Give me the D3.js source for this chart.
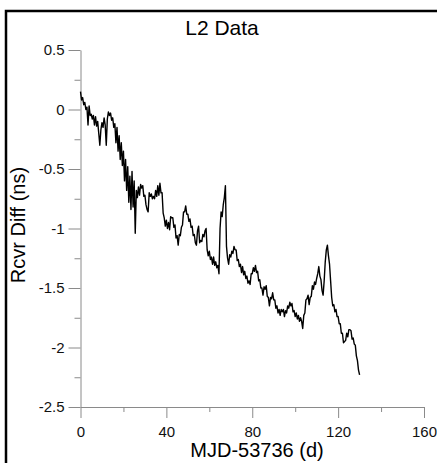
<!DOCTYPE html>
<html>
<head>
<meta charset="utf-8">
<script src="https://cdn.jsdelivr.net/npm/d3@7"></script>
<style>
  body { margin: 0; background: #fff; }
  svg { display: block; font-family: Arial, "Liberation Sans", sans-serif; }
</style>
</head>
<body>
<svg id="chart" width="437" height="463"></svg>
<script>
// data (day offset from MJD 53736, receiver difference in ns)
const days = [
  0, 0.5, 1, 1.5, 2, 2.5, 3, 3.5, 4, 4.5, 5, 5.5, 6, 6.5, 7, 7.5, 8, 8.5, 9, 9.5,
  10, 10.5, 11, 11.5, 12, 12.5, 13, 13.5, 14, 14.5, 15, 15.5, 16, 16.5, 17, 17.5, 18, 18.5, 19, 19.5,
  20, 20.5, 21, 21.5, 22, 22.5, 23, 23.5, 24, 24.5, 25, 25.5, 26, 26.5, 27, 27.5, 28, 28.5, 29, 29.5,
  30, 30.5, 31, 31.5, 32, 32.5, 33, 33.5, 34, 34.5, 35, 35.5, 36, 36.5, 37, 37.5, 38, 38.5, 39, 39.5,
  40, 40.5, 41, 41.5, 42, 42.5, 43, 43.5, 44, 44.5, 45, 45.5, 46, 46.5, 47, 47.5, 48, 48.5, 49, 49.5,
  50, 50.5, 51, 51.5, 52, 52.5, 53, 53.5, 54, 54.5, 55, 55.5, 56, 56.5, 57, 57.5, 58, 58.5, 59, 59.5,
  60, 60.5, 61, 61.5, 62, 62.5, 63, 63.5, 64, 64.5, 65, 65.5, 66, 66.5, 67, 67.5, 68, 68.5, 69, 69.5,
  70, 70.5, 71, 71.5, 72, 72.5, 73, 73.5, 74, 74.5, 75, 75.5, 76, 76.5, 77, 77.5, 78, 78.5, 79, 79.5,
  80, 80.5, 81, 81.5, 82, 82.5, 83, 83.5, 84, 84.5, 85, 85.5, 86, 86.5, 87, 87.5, 88, 88.5, 89, 89.5,
  90, 90.5, 91, 91.5, 92, 92.5, 93, 93.5, 94, 94.5, 95, 95.5, 96, 96.5, 97, 97.5, 98, 98.5, 99, 99.5,
  100, 100.5, 101, 101.5, 102, 102.5, 103, 103.5, 104, 104.5, 105, 105.5, 106, 106.5, 107, 107.5, 108, 108.5, 109, 109.5,
  110, 110.5, 111, 111.5, 112, 112.5, 113, 113.5, 114, 114.5, 115, 115.5, 116, 116.5, 117, 117.5, 118, 118.5, 119, 119.5,
  120, 120.5, 121, 121.5, 122, 122.5, 123, 123.5, 124, 124.5, 125, 125.5, 126, 126.5, 127, 127.5, 128, 128.5, 129, 129.5,
  130
]
const rcvrDiff = [
  0.15, 0.08, 0.10, 0.04, 0.06, 0.00, 0.02, -0.13, 0.03, -0.05, -0.04, -0.08, -0.05, -0.13, -0.06, -0.14, -0.10, -0.20, -0.30, -0.17,
  -0.11, -0.15, -0.07, -0.13, -0.30, -0.08, -0.02, -0.05, -0.03, -0.09, -0.07, -0.15, -0.12, -0.28, -0.15, -0.35, -0.22, -0.42, -0.28, -0.47,
  -0.35, -0.60, -0.42, -0.68, -0.48, -0.78, -0.56, -0.84, -0.52, -0.82, -0.60, -1.04, -0.68, -0.74, -0.65, -0.72, -0.63, -0.66, -0.64, -0.73,
  -0.72, -0.80, -0.84, -0.86, -0.70, -0.73, -0.71, -0.75, -0.73, -0.75, -0.68, -0.73, -0.64, -0.72, -0.62, -0.70, -0.70, -0.87, -0.91, -0.98,
  -0.93, -1.00, -0.95, -1.01, -0.90, -0.91, -0.91, -0.99, -0.97, -1.08, -1.06, -1.14, -1.05, -1.06, -0.99, -0.97, -0.86, -0.86, -0.81, -0.88,
  -0.88, -0.94, -0.92, -0.99, -0.98, -1.06, -1.05, -1.12, -1.14, -1.02, -0.98, -1.12, -1.10, -1.11, -1.05, -1.07, -1.02, -1.00, -1.18, -1.23,
  -1.19, -1.26, -1.24, -1.30, -1.24, -1.31, -1.28, -1.33, -1.31, -1.38, -1.00, -0.86, -0.90, -0.80, -0.74, -0.64, -1.15, -1.25, -1.30, -1.22,
  -1.24, -1.19, -1.21, -1.15, -1.18, -1.18, -1.27, -1.26, -1.32, -1.30, -1.37, -1.32, -1.39, -1.36, -1.42, -1.40, -1.46, -1.44, -1.47, -1.38,
  -1.38, -1.33, -1.36, -1.31, -1.37, -1.36, -1.44, -1.43, -1.50, -1.50, -1.56, -1.49, -1.51, -1.48, -1.57, -1.58, -1.65, -1.58, -1.59, -1.54,
  -1.60, -1.60, -1.67, -1.65, -1.71, -1.68, -1.73, -1.68, -1.70, -1.68, -1.74, -1.69, -1.71, -1.65, -1.67, -1.62, -1.65, -1.63, -1.70, -1.69,
  -1.74, -1.71, -1.76, -1.73, -1.78, -1.75, -1.78, -1.84, -1.73, -1.71, -1.60, -1.59, -1.56, -1.64, -1.58, -1.57, -1.48, -1.51, -1.45, -1.47,
  -1.42, -1.38, -1.32, -1.40, -1.43, -1.52, -1.56, -1.44, -1.28, -1.18, -1.14, -1.23, -1.30, -1.44, -1.58, -1.65, -1.64, -1.70, -1.68, -1.74,
  -1.74, -1.80, -1.80, -1.88, -1.88, -1.96, -1.95, -1.94, -1.88, -1.91, -1.85, -1.85, -1.86, -1.93, -1.92, -1.97, -1.98, -2.07, -2.11, -2.19,
  -2.23
]

const xMajor = [0, 40, 80, 120, 160]
const xMinor = [20, 60, 100, 140]
const yMajor = [0.5, 0, -0.5, -1, -1.5, -2, -2.5]
const yMinor = [0.25, -0.25, -0.75, -1.25, -1.75, -2.25]

const width = 437, height = 463
const margin = { left: 80.5, right: 13, top: 50, bottom: 56 }

const svg = d3.select("#chart")

// outer frame (only left and top edges fall inside the picture)
svg.append("path")
  .attr("d", `M6,${height} V11 H${width}`)
  .attr("fill", "none")
  .attr("stroke", "#000")
  .attr("stroke-width", 2.5)

const x = d3.scaleLinear().domain([0, 160]).range([margin.left, width - margin.right])
const y = d3.scaleLinear().domain([0.5, -2.5]).range([margin.top, height - margin.bottom])

const axisColor = "#8a8a8a"

function styleAxis(g) {
  g.select(".domain").attr("stroke", axisColor)
  g.selectAll(".tick line").attr("stroke", axisColor)
  g.selectAll(".tick text").attr("fill", "#111").style("font-size", "15px")
}

// x axis
svg.append("g")
  .attr("transform", `translate(0,${y(-2.5)})`)
  .call(d3.axisBottom(x).tickValues(xMajor).tickSize(11).tickSizeOuter(0).tickPadding(8).tickFormat(d => String(d)))
  .call(styleAxis)
svg.append("g")
  .attr("transform", `translate(0,${y(-2.5)})`)
  .call(d3.axisBottom(x).tickValues(xMinor).tickSize(5).tickSizeOuter(0).tickFormat(""))
  .call(g => g.select(".domain").remove())
  .call(styleAxis)

// y axis (plain hyphen minus like the original)
svg.append("g")
  .attr("transform", `translate(${x(0)},0)`)
  .call(d3.axisLeft(y).tickValues(yMajor).tickSize(12).tickSizeOuter(0).tickPadding(4).tickFormat(d => String(d)))
  .call(styleAxis)
svg.append("g")
  .attr("transform", `translate(${x(0)},0)`)
  .call(d3.axisLeft(y).tickValues(yMinor).tickSize(6).tickSizeOuter(0).tickFormat(""))
  .call(g => g.select(".domain").remove())
  .call(styleAxis)

// data trace
const line = d3.line()
  .x((d, i) => x(days[i]))
  .y(d => y(d))

svg.append("path")
  .datum(rcvrDiff)
  .attr("d", line)
  .attr("fill", "none")
  .attr("stroke", "#000")
  .attr("stroke-width", 1.4)
  .attr("stroke-linejoin", "round")

// titles
svg.append("text")
  .attr("x", 222).attr("y", 35)
  .attr("text-anchor", "middle")
  .style("font-size", "21px")
  .text("L2 Data")

svg.append("text")
  .attr("x", 257).attr("y", 457)
  .attr("text-anchor", "middle")
  .style("font-size", "20px")
  .text("MJD-53736 (d)")

svg.append("text")
  .attr("transform", "translate(25,225) rotate(-90)")
  .attr("text-anchor", "middle")
  .style("font-size", "20px")
  .text("Rcvr Diff (ns)")
</script>
</body>
</html>
